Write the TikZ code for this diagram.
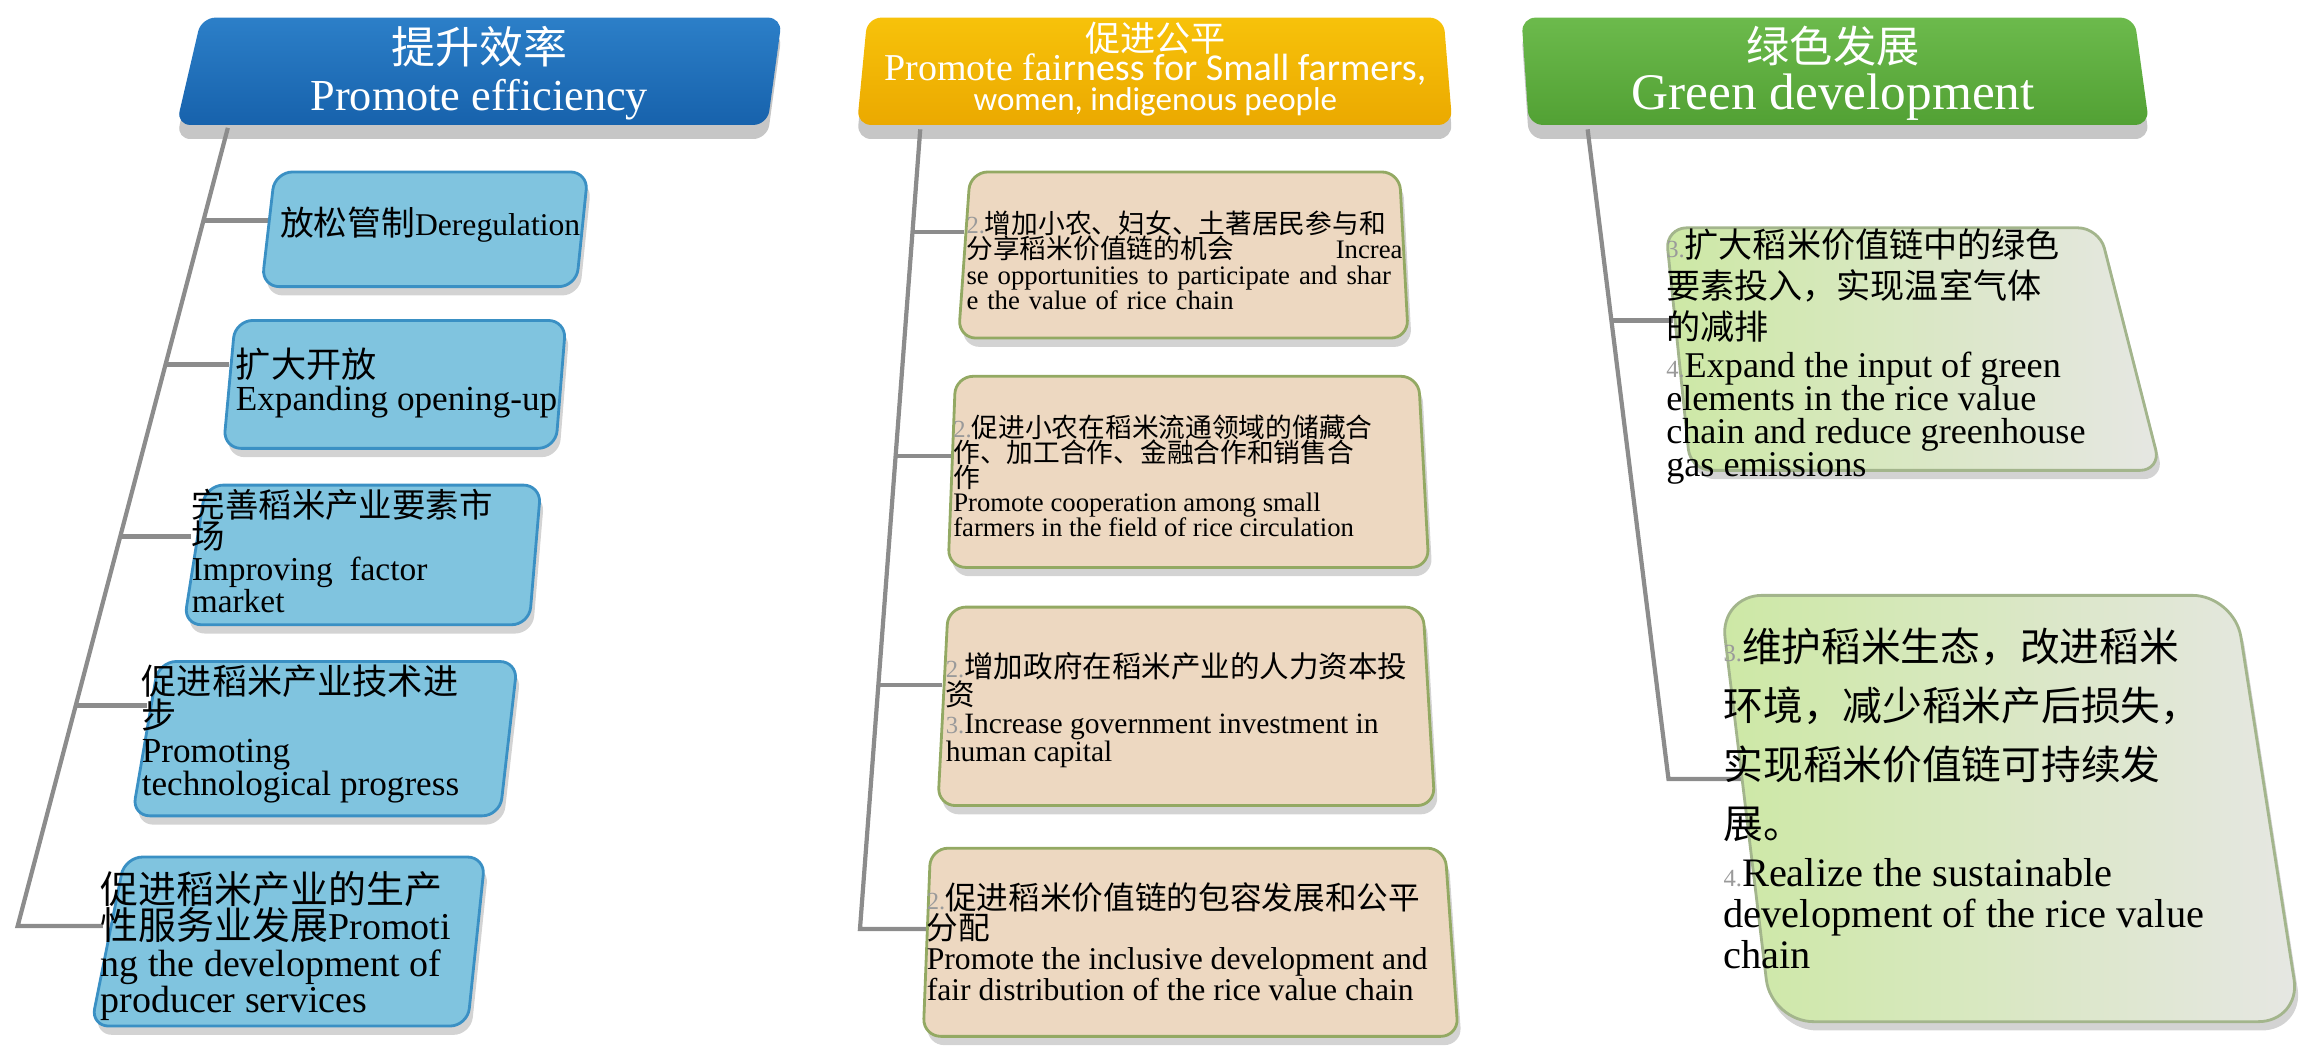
\documentclass[tikz,border=0pt]{standalone}
\usepackage{fontspec}
\setmainfont{Liberation Serif}
\newfontfamily\zhfont{Noto Sans CJK SC}
\newfontfamily\cbfont{Carlito}
\usetikzlibrary{shadows}

\definecolor{hblueA}{HTML}{2C7FC8}
\definecolor{hblueB}{HTML}{1762AC}
\definecolor{hyelA}{HTML}{F7C20A}
\definecolor{hyelB}{HTML}{EBA900}
\definecolor{hgrnA}{HTML}{6CBA4C}
\definecolor{hgrnB}{HTML}{52A134}
\definecolor{effblue}{HTML}{80C4DF}
\definecolor{effedge}{HTML}{3A90C4}
\definecolor{fairtan}{HTML}{EDD8C1}
\definecolor{fairedge}{HTML}{93A963}
\definecolor{greenl}{HTML}{CDE8A5}
\definecolor{greenr}{HTML}{E6E7E3}
\definecolor{greenedge}{HTML}{A3B58C}
\definecolor{trunkgray}{HTML}{8C8C8C}
\definecolor{taggray}{HTML}{9A9A9A}

\newcommand{\zhtxt}[1]{{\zhfont #1}}
\newcommand{\tagno}[1]{{\color{taggray}\scriptsize #1}}
\lineskiplimit=-20pt

\begin{document}
\begin{tikzpicture}[x=0.0147cm, y=-0.0147cm,
    head/.style={rounded corners=4pt, drop shadow={shadow xshift=0pt, shadow yshift=-4pt, opacity=.45}},
    effbox/.style={rounded corners=5pt, fill=effblue, draw=effedge, line width=.8pt,
        drop shadow={shadow xshift=1pt, shadow yshift=-2.5pt, opacity=.35}},
    fairbox/.style={rounded corners=5pt, fill=fairtan, draw=fairedge, line width=.8pt,
        drop shadow={shadow xshift=1pt, shadow yshift=-2.5pt, opacity=.35}},
    greenbox/.style={left color=greenl, right color=greenr, draw=greenedge, line width=.8pt,
        drop shadow={shadow xshift=1pt, shadow yshift=-2.5pt, opacity=.35}},
    trunk/.style={draw=trunkgray, line width=1.2pt},
    txt/.style={anchor=north west, inner sep=0pt, align=left},
    htxt/.style={text=white, align=center, inner sep=0pt}]
    \useasboundingbox (0,0) rectangle (1568,716);

    \path[head, top color=hblueA, bottom color=hblueB] (137,12) -- (532,12) -- (522,85) -- (120,85) -- cycle;
    \path[head, top color=hyelA, bottom color=hyelB] (590,12) -- (982,12) -- (988,85) -- (583,85) -- cycle;
    \path[head, top color=hgrnA, bottom color=hgrnB] (1035,12) -- (1452,12) -- (1462,85) -- (1040,85) -- cycle;

    \node[htxt, font=\fontsize{12}{13.4}\selectfont] (effHead) at (326,50)
        {{\zhfont\fontsize{12.5}{13.4}\selectfont 提升效率}\\{\fontsize{12.6}{13.4}\selectfont Promote efficiency}};
    \node[htxt, font=\fontsize{10.8}{8.4}\selectfont] (fairHead) at (786,47)
        {{\zhfont\fontsize{10}{8.4}\selectfont 促进公平}\\Promote fai{\cbfont rness for Small farmers,}\\{\cbfont\fontsize{9.4}{8.4}\selectfont women, indigenous people}};
    \node[htxt, font=\fontsize{13}{13.4}\selectfont] (greenHead) at (1247,50)
        {{\zhfont\fontsize{12.3}{13.4}\selectfont 绿色发展}\\{\fontsize{14.6}{13.4}\selectfont Green development}};

    \coordinate (effTop) at (155,87);
    \coordinate (effBot) at (12,630);
    \coordinate (fairTop) at (626,88);
    \coordinate (fairBot) at (585,632);
    \coordinate (greenTop) at (1080,88);
    \coordinate (greenBot) at (1135,530);

    \coordinate (eff1w) at (182,150);
    \coordinate (eff2w) at (156,248);
    \coordinate (eff3w) at (130,365);
    \coordinate (eff4w) at (100,480);
    \coordinate (eff5w) at (70,630);
    \coordinate (fair1w) at (656,158);
    \coordinate (fair2w) at (647,310);
    \coordinate (fair3w) at (641,466);
    \coordinate (fair4w) at (630,632);
    \coordinate (green1w) at (1138,218);
    \coordinate (green2w) at (1188,530);

    \draw[trunk] (effTop) -- (effBot) -- (eff5w);
    \draw[trunk] (138.4,150) -- (eff1w);
    \draw[trunk] (112.6,248) -- (eff2w);
    \draw[trunk] (81.8,365) -- (eff3w);
    \draw[trunk] (51.5,480) -- (eff4w);

    \draw[trunk] (fairTop) -- (fairBot) -- (fair4w);
    \draw[trunk] (620.7,158) -- (fair1w);
    \draw[trunk] (609.3,310) -- (fair2w);
    \draw[trunk] (597.5,466) -- (fair3w);

    \draw[trunk] (greenTop) -- (greenBot) -- (green2w);
    \draw[trunk] (1096.2,218) -- (green1w);

    \foreach \a/\b/\c/\d/\t/\u in {187/400/392/178/117/195, 160/385/378/152/218/305,
        140/368/360/125/330/425, 108/352/340/90/450/555, 85/330/318/62/583/698}
    {\path[effbox] (\a,\t) -- (\b,\t) -- (\c,\u) -- (\d,\u) -- cycle;}

    \foreach \a/\b/\c/\d/\t/\u in {660/952/958/652/117/230, 650/965/972/645/256/386,
        645/968/976/638/413/548, 633/983/992/628/577/705}
    {\path[fairbox] (\a,\t) -- (\b,\t) -- (\c,\u) -- (\d,\u) -- cycle;}

    \path[greenbox, rounded corners=6pt] (1133,155) -- (1428,155) -- (1470,320) -- (1150,320) -- cycle;
    \path[greenbox, rounded corners=12pt] (1170,405) -- (1520,405) -- (1565,695) -- (1205,695) -- cycle;

    \node[txt, anchor=west, font=\fontsize{9}{10}\selectfont] (eff1) at (190,153)
        {{\zhfont\fontsize{9.6}{10}\selectfont 放松管制}Deregulation};
    \node[txt, font=\fontsize{10}{9.6}\selectfont] (eff2) at (160,236)
        {\zhtxt{扩大开放}\\Expanding opening-up};
    \node[txt, font=\fontsize{9.5}{9}\selectfont] (eff3) at (130,332)
        {\zhtxt{完善稻米产业要素市}\\\zhtxt{场}\\Improving\ \ factor\\market};
    \node[txt, font=\fontsize{10}{9.6}\selectfont] (eff4) at (96,452)
        {\zhtxt{促进稻米产业技术进}\\\zhtxt{步}\\Promoting\\technological progress};
    \node[txt, font=\fontsize{10.8}{10.4}\selectfont] (eff5) at (68,592)
        {\zhtxt{促进稻米产业的生产}\\\zhtxt{性服务业发展}Promoti\\ng the development of\\producer services};

    \node[txt, text width=124pt, font=\fontsize{7.6}{7.2}\selectfont] (fair1) at (657,143)
        {\tagno{2.}\zhtxt{增加小农、妇女、土著居民参与和}\\\zhtxt{分享稻米价值链的机会}\hfill Increa\\se opportunities to participate and shar\\e the value of rice chain};
    \node[txt, font=\fontsize{7.6}{7}\selectfont] (fair2) at (648,282)
        {\tagno{2.}\zhtxt{促进小农在稻米流通领域的储藏合}\\\zhtxt{作、加工合作、金融合作和销售合}\\\zhtxt{作}\\Promote cooperation among small\\farmers in the field of rice circulation};
    \node[txt, font=\fontsize{8.4}{8}\selectfont] (fair3) at (643,443)
        {\tagno{2.}\zhtxt{增加政府在稻米产业的人力资本投}\\\zhtxt{资}\\\tagno{3.}Increase government investment in\\human capital};
    \node[txt, font=\fontsize{9}{8.6}\selectfont] (fair4) at (630,600)
        {\tagno{2.}\zhtxt{促进稻米价值链的包容发展和公平}\\\zhtxt{分配}\\Promote the inclusive development and\\fair distribution of the rice value chain};

    \node[txt, font=\fontsize{10.3}{9.3}\selectfont] (green1) at (1133,155)
        {\tagno{3.}{\zhfont\fontsize{9.7}{9.3}\selectfont 扩大稻米价值链中的绿色}\\[2.4pt]
         {\zhfont\fontsize{9.7}{9.3}\selectfont 要素投入，实现温室气体}\\[2.4pt]
         {\zhfont\fontsize{9.7}{9.3}\selectfont 的减排}\\[1.6pt]
         \tagno{4.}Expand the input of green\\elements in the rice value\\chain and reduce greenhouse\\gas emissions};
    \node[txt, font=\fontsize{11.5}{11.7}\selectfont] (green2) at (1172,427)
        {\tagno{3.}{\zhfont\fontsize{11.3}{11.7}\selectfont 维护稻米生态，改进稻米}\\[5pt]
         {\zhfont\fontsize{11.3}{11.7}\selectfont 环境，减少稻米产后损失，}\\[5pt]
         {\zhfont\fontsize{11.3}{11.7}\selectfont 实现稻米价值链可持续发}\\[5pt]
         {\zhfont\fontsize{11.3}{11.7}\selectfont 展。}\\[2pt]
         \tagno{4.}Realize the sustainable\\development of the rice value\\chain};
\end{tikzpicture}
\end{document}
